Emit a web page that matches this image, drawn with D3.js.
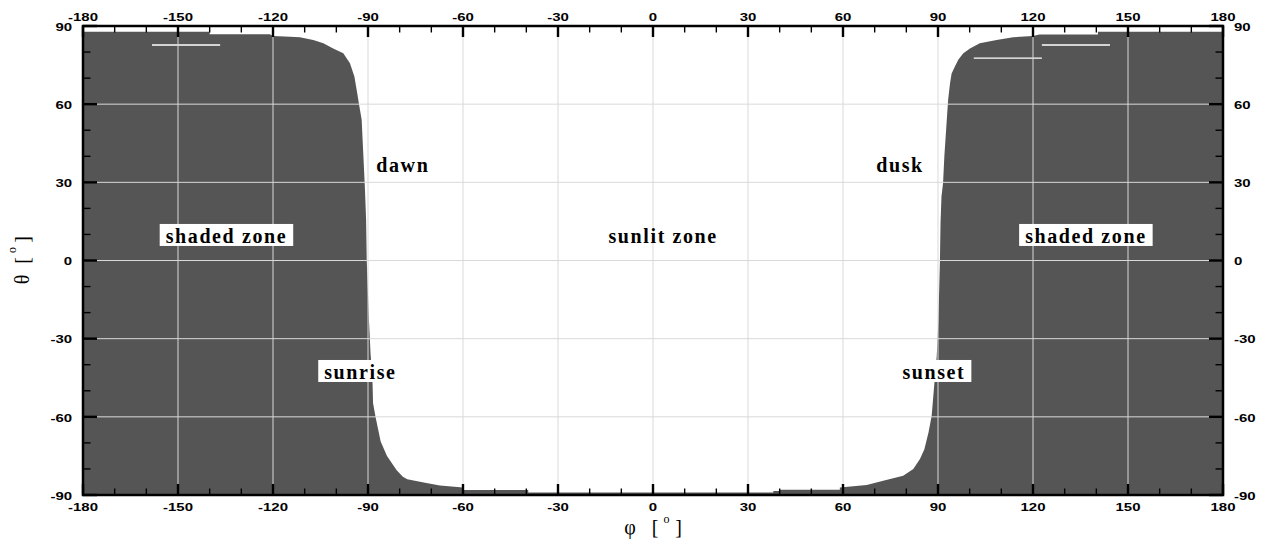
<!DOCTYPE html>
<html>
<head>
<meta charset="utf-8">
<script src="https://cdn.jsdelivr.net/npm/d3@7"></script>
<style>
  html, body { margin: 0; padding: 0; background: #fff; }
  svg { display: block; }
</style>
</head>
<body>
<svg id="chart" width="1270" height="539"></svg>
<script>
// Terminator between the sunlit and shaded zones, azimuth phi vs elevation theta (degrees).
const dawnPhi   = [-180, -140, -140, -121, -120, -114.6, -111.5, -107.3, -104.1, -101, -97.8, -95.7, -94.3, -93.4, -92.8, -92.0, -91.5, -91.0, -90.6, -90.4, -89.7, -89.2, -88.6, -88.4, -87.6, -86.0, -84.0, -81.0, -79.0, -77.6, -72.0, -67.3, -60, -60, -39.4, -39.4];
const dawnTheta = [87.8, 87.8, 86.8, 86.8, 86.2, 85.9, 85.7, 84.6, 83.4, 81.4, 79.5, 75.7, 70.6, 64.2, 59.7, 54, 41.2, 28.4, 15.6, 0, -22.8, -35.6, -45.6, -54.8, -60.2, -69.5, -75, -80.4, -83, -84, -85.3, -86.4, -87.1, -88.1, -88.1, -89];
const duskPhi   = [38, 38, 40, 40, 59, 59, 67.5, 72.7, 79, 82.2, 84.3, 85.7, 87, 88, 88.7, 89.6, 90.1, 90.6, 90.8, 91.1, 91.6, 92, 92.7, 93.2, 93.8, 94.3, 95.3, 96.4, 98, 100.1, 103.2, 108.5, 113.7, 120, 122, 140.5, 140.5, 180];
const duskTheta = [-89, -88.5, -88.5, -88, -88, -87.1, -86.2, -84.5, -82.6, -80, -76.2, -72.4, -66, -59.6, -49.4, -36.7, -23.9, -0.9, 14.4, 24.6, 29.7, 39.9, 52.7, 61.7, 68, 71.8, 74.4, 77, 79.5, 81.4, 83.4, 84.6, 85.7, 86.2, 86.7, 86.7, 87.8, 87.8];

// Thin unshaded streaks inside the shaded zones (start phi, end phi, theta).
const streakPhi0  = [-158.2, 122.8, 101.3];
const streakPhi1  = [-136.7, 144.3, 122.8];
const streakTheta = [82.7, 82.7, 77.7];

// Axis ticks.
const phiMajor   = d3.range(-180, 181, 30);
const phiMinor   = d3.range(-180, 181, 10).filter(v => v % 30 !== 0);
const thetaMajor = d3.range(-90, 91, 30);
const thetaMinor = d3.range(-90, 91, 10).filter(v => v % 30 !== 0);
const phiLabels   = ["-180", "-150", "-120", "-90", "-60", "-30", "0", "30", "60", "90", "120", "150", "180"];
const thetaLabels = ["-90", "-60", "-30", "0", "30", "60", "90"];

// Zone annotations (centre position in phi/theta).
const noteText  = ["dawn", "dusk", "shaded zone", "sunlit zone", "shaded zone", "sunrise", "sunset"];
const notePhi   = [-79, 78, -134.7, 3.2, 136.7, -92.4, 88.7];
const noteTheta = [37, 37, 9.8, 9.8, 9.8, -42.4, -42.4];
const noteBoxed = [false, false, true, false, true, true, true];

const svg = d3.select("#chart");
const plotL = 83, plotR = 1223, plotT = 26, plotB = 495;

const x = d3.scaleLinear().domain([-180, 180]).range([plotL, plotR]);
const y = d3.scaleLinear().domain([-90, 90]).range([plotB, plotT]);

const SANS = "'Liberation Sans', Arial, Helvetica, sans-serif";
const SERIF = "'Liberation Serif', 'Times New Roman', Times, serif";

// Shaded region: one polygon running along the bottom, up the dawn edge, and back down the dusk edge.
const shadePts = [[-180, -90]]
  .concat(dawnPhi.map((p, i) => [p, dawnTheta[i]]))
  .concat(duskPhi.map((p, i) => [p, duskTheta[i]]))
  .concat([[180, -90]]);

const line = d3.line().x(d => x(d[0])).y(d => y(d[1]));

svg.append("path")
  .attr("d", line(shadePts) + "Z")
  .attr("fill", "#555555")
  .attr("stroke", "none");

svg.append("g").selectAll("line")
  .data(streakTheta.map((t, i) => ({ p0: streakPhi0[i], p1: streakPhi1[i], t })))
  .join("line")
  .attr("x1", d => x(d.p0)).attr("x2", d => x(d.p1))
  .attr("y1", d => y(d.t)).attr("y2", d => y(d.t))
  .attr("stroke", "#ffffff").attr("stroke-width", 1.3);

// Grid
const grid = svg.append("g").attr("stroke", "#d9d9d9").attr("stroke-width", 1);
grid.selectAll("line.v")
  .data(phiMajor.filter(v => v > -180 && v < 180))
  .join("line").attr("class", "v")
  .attr("x1", d => x(d)).attr("x2", d => x(d))
  .attr("y1", plotT).attr("y2", plotB);
grid.selectAll("line.h")
  .data(thetaMajor.filter(v => v > -90 && v < 90))
  .join("line").attr("class", "h")
  .attr("x1", plotL).attr("x2", plotR)
  .attr("y1", d => y(d)).attr("y2", d => y(d));

// Annotations
const notes = svg.append("g");
noteText.forEach((t, i) => {
  const cx = x(notePhi[i]), cy = y(noteTheta[i]);
  const g = notes.append("g");
  const txt = g.append("text")
    .attr("x", cx).attr("y", cy).attr("dy", "0.38em")
    .attr("text-anchor", "middle")
    .attr("font-family", SERIF).attr("font-weight", "bold")
    .attr("font-size", 20).attr("letter-spacing", 1.6)
    .attr("fill", "#000")
    .text(t);
  if (noteBoxed[i]) {
    const w = txt.node().getComputedTextLength();
    g.insert("rect", "text")
      .attr("x", cx - w / 2 - 6).attr("y", cy - 11)
      .attr("width", w + 12).attr("height", 22)
      .attr("fill", "#fff");
  }
});

// Ticks, drawn inward on all four sides.
const tickG = svg.append("g").attr("stroke", "#000");
function xTicks(values, len, width) {
  [[plotB, -1], [plotT, 1]].forEach(([y0, dir]) => {
    tickG.append("g").selectAll("line")
      .data(values).join("line")
      .attr("x1", d => x(d)).attr("x2", d => x(d))
      .attr("y1", y0).attr("y2", y0 + dir * len)
      .attr("stroke-width", width);
  });
}
function yTicks(values, len, width) {
  [[plotL, 1], [plotR, -1]].forEach(([x0, dir]) => {
    tickG.append("g").selectAll("line")
      .data(values).join("line")
      .attr("y1", d => y(d)).attr("y2", d => y(d))
      .attr("x1", x0).attr("x2", x0 + dir * len)
      .attr("stroke-width", width);
  });
}
xTicks(phiMinor, 6.5, 1.4);
xTicks(phiMajor, 11, 2.4);
yTicks(thetaMinor, 7.5, 1.4);
yTicks(thetaMajor, 14, 2.4);

// Frame
svg.append("rect")
  .attr("x", plotL).attr("y", plotT)
  .attr("width", plotR - plotL).attr("height", plotB - plotT)
  .attr("fill", "none").attr("stroke", "#000").attr("stroke-width", 2.5);

// Tick labels
function tickLabels(data, labels, px, py, anchor) {
  svg.append("g").selectAll("text")
    .data(data)
    .join("text")
    .attr("transform", d => `translate(${px(d)},${py(d)}) scale(1.3,1)`)
    .attr("text-anchor", anchor)
    .attr("font-family", SANS).attr("font-weight", "bold").attr("font-size", 11.5)
    .attr("fill", "#000")
    .text((d, i) => labels[i]);
}
tickLabels(phiMajor, phiLabels, d => x(d), () => plotT - 5, "middle");
tickLabels(phiMajor, phiLabels, d => x(d), () => plotB + 15.5, "middle");
tickLabels(thetaMajor, thetaLabels, () => plotL - 11, d => y(d) + 4.7, "end");
tickLabels(thetaMajor, thetaLabels, () => plotR + 11, d => y(d) + 4.7, "start");

// Axis titles
const phiTitle = svg.append("g").attr("font-family", SERIF).attr("font-size", 20).attr("fill", "#000").attr("text-anchor", "middle");
phiTitle.append("text").attr("x", 630).attr("y", 533.5).text("φ");
phiTitle.append("text").attr("x", 655).attr("y", 533.5).text("[");
phiTitle.append("text").attr("x", 666.5).attr("y", 523).attr("font-size", 12).text("o");
phiTitle.append("text").attr("x", 678.5).attr("y", 533.5).text("]");

const thetaTitle = svg.append("g").attr("font-family", SERIF).attr("font-size", 20).attr("fill", "#000").attr("text-anchor", "middle");
thetaTitle.append("text").attr("transform", "translate(28.5,279.5) rotate(-90)").text("θ");
thetaTitle.append("text").attr("transform", "translate(28.5,260.5) rotate(-90)").text("[");
thetaTitle.append("text").attr("transform", "translate(15.5,250) rotate(-90)").attr("font-size", 12).text("o");
thetaTitle.append("text").attr("transform", "translate(28.5,239.5) rotate(-90)").text("]");
</script>
</body>
</html>
